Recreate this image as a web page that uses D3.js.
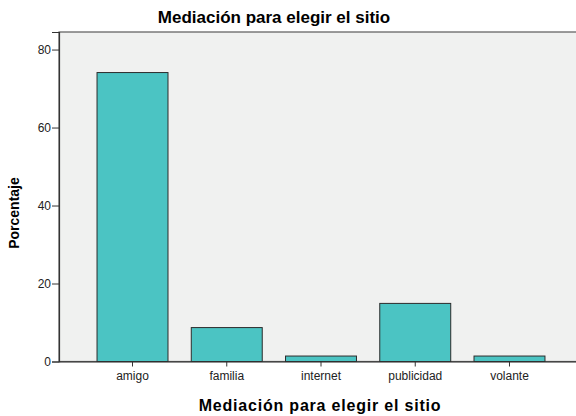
<!DOCTYPE html>
<html>
<head>
<meta charset="utf-8">
<script src="https://cdn.jsdelivr.net/npm/d3@7/dist/d3.min.js"></script>
<style>
  html, body { margin: 0; padding: 0; background: #ffffff; }
  svg { display: block; }
  text { font-family: "Liberation Sans", Arial, sans-serif; }
</style>
</head>
<body>
<svg id="chart" width="576" height="416"></svg>
<script>
// Percentage of respondents by the channel that led them to choose the site
const categories = ["amigo", "familia", "internet", "publicidad", "volante"];
const percentages = [74.1, 8.7, 1.4, 14.9, 1.4];
const yTicks = [0, 20, 40, 60, 80];

const chartTitle = "Mediación para elegir el sitio";
const xTitle = "Mediación para elegir el sitio";
const yTitle = "Porcentaje";

const svg = d3.select("#chart");

const plot = { left: 59, right: 583, top: 32, bottom: 361.5 };

const x = d3.scaleBand()
  .domain(categories)
  .range([plot.left, plot.right])
  .paddingInner(0.247)
  .paddingOuter(0.4035);

const y = d3.scaleLinear()
  .domain([0, 84.5])
  .range([plot.bottom, plot.top]);

// Plot background and frame
svg.append("rect")
  .attr("x", plot.left)
  .attr("y", plot.top)
  .attr("width", plot.right - plot.left)
  .attr("height", plot.bottom - plot.top)
  .attr("fill", "#f0f1f0")
  .attr("stroke", "#5a5a5a")
  .attr("stroke-width", 1.2);

// Bars
svg.append("g")
  .selectAll("rect")
  .data(categories.map((c, i) => ({ c, v: percentages[i] })))
  .join("rect")
  .attr("x", d => x(d.c))
  .attr("y", d => y(d.v))
  .attr("width", x.bandwidth())
  .attr("height", d => y(0) - y(d.v))
  .attr("fill", "#4bc4c3")
  .attr("stroke", "#2c2c2c")
  .attr("stroke-width", 1);

// Y axis
const yAxis = svg.append("g")
  .attr("transform", `translate(${plot.left},0)`)
  .call(d3.axisLeft(y).tickValues(yTicks).tickSize(7).tickPadding(1).tickFormat(d3.format("d")));
yAxis.select(".domain").attr("stroke", "#333").attr("stroke-width", 1.2);
yAxis.selectAll(".tick line").attr("stroke", "#333");
yAxis.selectAll(".tick text")
  .attr("font-size", 12)
  .attr("fill", "#222")
  .attr("font-family", "Liberation Sans, Arial, sans-serif");

// X axis
const xAxis = svg.append("g")
  .attr("transform", `translate(0,${plot.bottom})`)
  .call(d3.axisBottom(x).tickSize(5).tickPadding(5).tickSizeOuter(0));
xAxis.select(".domain").attr("stroke", "#333").attr("stroke-width", 1.2);
xAxis.selectAll(".tick line").attr("stroke", "#333");
xAxis.selectAll(".tick text")
  .attr("font-size", 12)
  .attr("fill", "#222")
  .attr("font-family", "Liberation Sans, Arial, sans-serif");

// Titles
svg.append("text")
  .attr("x", 274)
  .attr("y", 23)
  .attr("text-anchor", "middle")
  .attr("font-size", 17)
  .attr("font-weight", "bold")
  .attr("fill", "#000")
  .text(chartTitle);

svg.append("text")
  .attr("x", 320)
  .attr("y", 411)
  .attr("text-anchor", "middle")
  .attr("font-size", 16)
  .attr("font-weight", "bold")
  .attr("letter-spacing", 0.8)
  .attr("fill", "#000")
  .text(xTitle);

svg.append("text")
  .attr("transform", "translate(19,213) rotate(-90)")
  .attr("text-anchor", "middle")
  .attr("font-size", 14)
  .attr("font-weight", "bold")
  .attr("fill", "#000")
  .text(yTitle);
</script>
</body>
</html>
